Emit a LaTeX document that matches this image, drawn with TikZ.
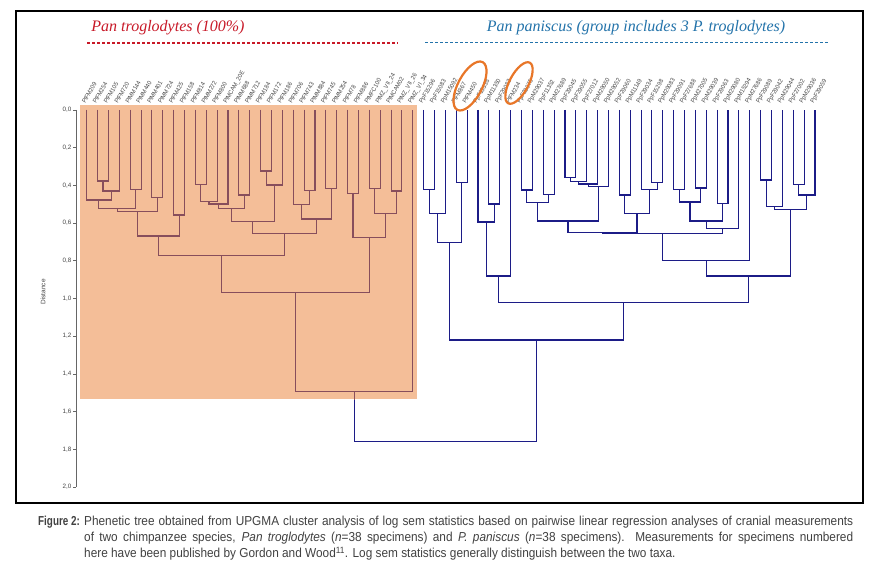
\documentclass[tikz,border=0pt]{standalone}
\usepackage{fontspec}
\setmainfont{Liberation Serif}
\setsansfont{Liberation Sans}
\newfontfamily\capfont[FakeStretch=0.91]{Liberation Sans}
\newfontfamily\figfont[FakeStretch=0.76]{Liberation Sans}
\newfontfamily\labfont[FakeStretch=0.92]{Liberation Sans}
\usetikzlibrary{calc}
\definecolor{peach}{RGB}{244,190,152}
\definecolor{treebrown}{RGB}{135,78,92}
\definecolor{treeblue}{RGB}{28,28,135}
\definecolor{titlered}{RGB}{200,25,40}
\definecolor{titleblue}{RGB}{35,115,170}
\definecolor{circleorange}{RGB}{232,118,40}
\definecolor{labelgray}{RGB}{70,70,70}
\definecolor{capgray}{RGB}{65,65,65}
\tikzset{
  treeline/.style={draw=treeblue,line width=1.1pt},
  leaflabel/.style={rotate=60,anchor=base west,inner sep=0pt,text=labelgray,
    font=\labfont\fontsize{6.2}{7}\selectfont},
  ticklabel/.style={anchor=east,inner sep=0pt,text=labelgray,
    font=\sffamily\fontsize{6.3}{7}\selectfont},
  axisline/.style={draw=gray!80!black,line width=0.8pt},
  titletext/.style={inner sep=0pt,font=\itshape\fontsize{16}{19}\selectfont},
  titledash/.style={line width=1.1pt,dash pattern=on 3pt off 2pt},
  circlemark/.style={draw=circleorange,line width=2.2pt},
}
\newcommand\J[4]{%
  \path let \p1=(#2), \p2=(#3) in ({(\x1+\x2)/2},{-#4pt}) coordinate (#1);
  \draw[treeline] (#2) |- (#1) -| (#3);}
\newcommand\treelines{%
  \J{n1}{L1}{L2}{181}
  \J{n2}{n1}{L3}{191}
  \J{n3}{L0}{n2}{200}
  \J{n4}{L4}{L5}{189.3}
  \J{n5}{n3}{n4}{208.3}
  \J{n6}{L6}{L7}{197.7}
  \J{n7}{n5}{n6}{211.7}
  \J{n8}{L8}{L9}{215}
  \J{n9}{n7}{n8}{236}
  \J{n10}{L10}{L11}{184.3}
  \J{n11}{n10}{L12}{201.7}
  \J{n12}{n11}{L13}{204}
  \J{n13}{L14}{L15}{195}
  \J{n14}{n12}{n13}{208.3}
  \J{n15}{L16}{L17}{171}
  \J{n16}{n15}{L18}{185}
  \J{n17}{n14}{n16}{221.7}
  \J{n18}{L20}{L21}{190.7}
  \J{n19}{L19}{n18}{204.3}
  \J{n20}{L22}{L23}{188.3}
  \J{n21}{n19}{n20}{219}
  \J{n22}{n17}{n21}{233.3}
  \J{n23}{n9}{n22}{255.7}
  \J{n24}{L24}{L25}{193.3}
  \J{n25}{L26}{L27}{188.3}
  \J{n26}{L28}{L29}{191}
  \J{n27}{n25}{n26}{213.3}
  \J{n28}{n24}{n27}{237.3}
  \J{n29}{n23}{n28}{292.7}
  \J{n30}{n29}{L30}{391.7}
  \J{m1}{L31}{L32}{189.3}
  \J{m2}{m1}{L33}{213.7}
  \J{m3}{L34}{L35}{182.7}
  \J{m4}{m2}{m3}{242.7}
  \J{m5}{L37}{L38}{204}
  \J{m6}{L36}{m5}{222}
  \J{m7}{m6}{L39}{276}
  \J{m8}{L40}{L41}{190}
  \J{m9}{L42}{L43}{194.3}
  \J{m10}{m8}{m9}{202.7}
  \J{m11}{L44}{L45}{177.7}
  \J{m12}{m11}{L46}{181.7}
  \J{m13}{m12}{L47}{184}
  \J{m14}{m13}{L48}{186.7}
  \J{m15}{m10}{m14}{221}
  \J{m16}{L49}{L50}{195}
  \J{m17}{L52}{L53}{182.7}
  \J{m18}{L51}{m17}{189.3}
  \J{m19}{m16}{m18}{213.3}
  \J{m20}{m15}{m19}{232.7}
  \J{m21}{L54}{L55}{189.3}
  \J{m22}{L56}{L57}{188}
  \J{m23}{m21}{m22}{202}
  \J{m24}{L58}{L59}{203.3}
  \J{m25}{m23}{m24}{221}
  \J{m26}{m25}{L60}{228.7}
  \J{m27}{m20}{m26}{233.7}
  \J{m28}{m27}{L61}{260.7}
  \J{m29}{L62}{L63}{180}
  \J{m30}{m29}{L64}{206.7}
  \J{m31}{L65}{L66}{184.3}
  \J{m32}{m31}{L67}{195}
  \J{m33}{m30}{m32}{209.3}
  \J{m34}{m28}{m33}{276}
  \J{m35}{m7}{m34}{302.3}
  \J{m36}{m4}{m35}{340}
  \J{root}{n30}{m36}{441.7}
}
\begin{document}
\begin{tikzpicture}[x=1pt,y=-1pt]
\useasboundingbox (0,0) rectangle (875,585);
\fill[white] (0,0) rectangle (875,585);
% frame
\coordinate (frameNW) at (16,11);
\coordinate (frameSE) at (863,503);
\draw[line width=1.2pt] (frameNW) rectangle (frameSE);
% shaded box
\coordinate (boxNW) at (80,105);
\coordinate (boxSE) at (416.6,399.3);
\fill[peach] (boxNW) rectangle (boxSE);
% leaves
\foreach \i in {0,...,67} \coordinate (L\i) at ({86.7+10.87*\i},110);
% tree
\treelines
\begin{scope}
  \clip (boxNW) rectangle (boxSE);
  \begin{scope}[treeline/.style={draw=treebrown,line width=1.1pt}]
    \treelines
  \end{scope}
\end{scope}
% leaf labels
\foreach \t [count=\i from 0] in {PtFM209,PtFM254,PtFM105,PtFM720,PtMM144,PtMM440,PtMM401,PtMM724,PtFM425,PtFM158,PtFM814,PtMM272,PtFM800,PtMCAM\_20E,PtMM688,PtMM712,PtFM184,PtFM172,PtFM186,PtFM706,PtFM743,PtMM884,PtFM745,PtMM254,PtFM78,PtFM886,PtMFC100,PtMZ\_VII\_24,PtMCAM02,PtMZ\_VII\_26,PtMZ\_VI\_34,PpF15296,PpF15083,PpM15092,PtFM867,PtFM450,PpF15338,PpM11350,PpF29082,PtFM234,PpF29075,PpM29037,PpF11352,PpM27689,PpF29045,PpF29055,PpF27012,PpM29050,PpM29052,PpF29060,PpM11149,PpF29034,PpF15298,PpM29083,PpF29091,PpF27688,PpM27005,PpM29039,PpF29063,PpM29080,PpM15294,PpM27686,PpF29089,PpF29042,PpM29044,PpF27002,PpM29036,PpF29059}
  \node[leaflabel] (lab\i) at ($(L\i)+(-1.5,-6)$) {\t};
% axis
\coordinate (axtop) at (76,110);
\coordinate (axbot) at (76,487);
\draw[axisline] (axtop) -- (axbot);
\foreach \lab [count=\k from 0] in {{0,0},{0,2},{0,4},{0,6},{0,8},{1,0},{1,2},{1,4},{1,6},{1,8},{2,0}} {
  \coordinate (tk\k) at (76,{110+37.7*\k});
  \draw[axisline] (tk\k) -- ++(-3.5,0) coordinate (tke\k);
  \node[ticklabel] (tl\k) at ($(tke\k)+(-0.8,0)$) {\lab};
}
\node[rotate=90,inner sep=0pt,text=labelgray,font=\sffamily\fontsize{6.5}{7}\selectfont] (ylab) at (43,292) {Distance};
% titles
\node[titletext,text=titlered] (t1) at (168,28) {Pan troglodytes (100\%)};
\coordinate (d1a) at (87,43);
\coordinate (d1b) at (398,43);
\draw[titledash,titlered] (d1a) -- (d1b);
\node[titletext,text=titleblue] (t2) at (636,28) {Pan paniscus (group includes 3 P. troglodytes)};
\coordinate (d2a) at (425,42.5);
\coordinate (d2b) at (829,42.5);
\draw[titledash,titleblue] (d2a) -- (d2b);
% orange circles
\draw[circlemark] (470,86) ellipse [x radius=27, y radius=12, rotate=62];
\draw[circlemark] (519,83) ellipse [x radius=23, y radius=9.5, rotate=62];
% caption
\node[anchor=north west,inner sep=0pt,text=capgray,font=\figfont\bfseries\fontsize{13}{16}\selectfont] (figlab) at (38,516) {Figure 2:};
\node[anchor=north west,inner sep=0pt,text width=769pt,align=justify,text=capgray,
  font=\capfont\fontsize{13}{16}\selectfont] (cap) at (84,516)
  {Phenetic tree obtained from UPGMA cluster analysis of log sem statistics based on pairwise linear regression analyses of cranial measurements\linebreak
   of two chimpanzee species, \textit{Pan troglodytes} (\textit{n}=38 specimens) and \textit{P. paniscus} (\textit{n}=38 specimens). Measurements for specimens numbered\linebreak
   here have been published by Gordon and Wood\textsuperscript{11}. Log sem statistics generally distinguish between the two taxa.};
\end{tikzpicture}
\end{document}
